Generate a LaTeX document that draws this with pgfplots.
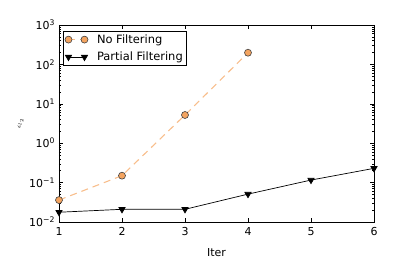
\documentclass[border=0pt]{standalone}
\usepackage{pgfplots}
\pgfplotsset{compat=1.18}
\usepackage{fontspec}
\setmainfont{DejaVu Sans}
\definecolor{sandy}{RGB}{244,164,96}
\definecolor{sandyl}{RGB}{248,190,140}
\begin{document}
\fontsize{11.5}{13}\selectfont
\begin{tikzpicture}
\useasboundingbox (-59bp,-43bp) rectangle (356bp,222bp);
\begin{axis}[
  at={(0,0)}, anchor=south west,
  scale only axis, width=315bp, height=197bp,
  ymode=log, xmin=1, xmax=6, ymin=1e-2, ymax=1e3,
  xtick={1,2,3,4,5,6},
  ytick={1e-2,1e-1,1e0,1e1,1e2,1e3},
  minor ytick={2e-2,3e-2,4e-2,5e-2,6e-2,7e-2,8e-2,9e-2,
               2e-1,3e-1,4e-1,5e-1,6e-1,7e-1,8e-1,9e-1,
               2,3,4,5,6,7,8,9,20,30,40,50,60,70,80,90,
               200,300,400,500,600,700,800,900},
  yticklabels={10\textsuperscript{−2},10\textsuperscript{−1},10\textsuperscript{0},10\textsuperscript{1},10\textsuperscript{2},10\textsuperscript{3}},
  /pgf/number format/assume math mode=true,
  tick align=inside,
  major tick length=4bp, minor tick length=2bp,
  xtick pos=both, ytick pos=both,
  axis line style={line width=0.9pt},
  tick style={black, line width=0.6pt},
  xlabel={\fontsize{11}{13}\selectfont Iter}, ylabel={\fontsize{7.5}{8}\selectfont$\epsilon_{l_2}$},
  xlabel style={yshift=-5bp},
  ylabel style={yshift=-2bp},
  tick label style={font=\fontsize{11}{13}\selectfont},
  xticklabel style={yshift=-1.5bp},
  legend style={draw=black, line width=0.8pt, font=\fontsize{11.5}{13}\selectfont, inner sep=1.5pt, row sep=3pt, at={(0.013,0.972)}, anchor=north west},
  legend cell align=left,
  legend image code/.code={\draw[#1] plot coordinates {(0bp,0bp) (16bp,0bp)}; \path (26bp,0bp);},
]
\addplot[color=sandyl, dash pattern=on 7bp off 5bp, line width=1.1pt, mark=*, mark size=3.5bp, mark options={solid, fill=sandy, draw=black!75, line width=0.6pt}]
 coordinates {(1,0.036) (2,0.15) (3,5.2) (4,198)};
\addlegendentry{No Filtering}
\addplot[color=black, line width=0.7pt, mark=triangle*, mark size=3.6bp, mark options={solid, rotate=180, fill=black}]
 coordinates {(1,0.0177) (2,0.021) (3,0.021) (4,0.051) (5,0.116) (6,0.23)};
\addlegendentry{Partial Filtering}
\end{axis}
\end{tikzpicture}
\end{document}
